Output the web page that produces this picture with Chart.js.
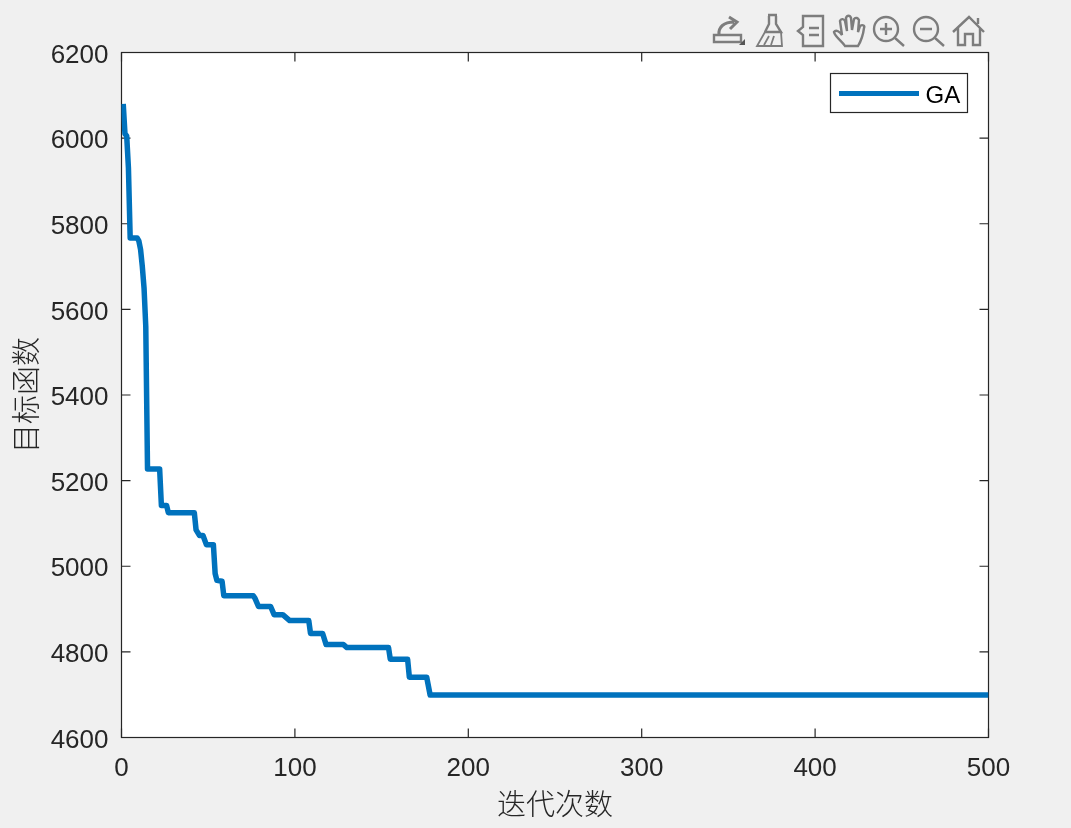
<!DOCTYPE html>
<html>
<head>
<meta charset="utf-8">
<script src="https://cdn.jsdelivr.net/npm/chart.js@4"></script>
<style>
  html, body { margin: 0; padding: 0; background: #f0f0f0; overflow: hidden; }
  #wrap { position: relative; width: 1071px; height: 828px; }
  #toolbar { position: absolute; left: 0; top: 0; }
</style>
</head>
<body>
<div id="wrap">
  <canvas id="myChart" width="1071" height="828"></canvas>
  <!-- figure toolbar icons -->
  <svg id="toolbar" width="1071" height="52" fill="none" stroke="#7d7d7d" stroke-width="2.4">
    <path d="M714 35h27v7h-27z"/>
    <path d="M719 35c-1-8 5-13 15-13M729 17l8 5-7 7" stroke-width="3"/>
    <path d="M739 45l6-6v6z" fill="#555" stroke="none"/>
    <path d="M768 15h9M769 16v8l-4 8M776 16v8l5 8h-16" />
    <path d="M765 32l-8 14h25l-1-14zM764 45l5-9M771 45l3-9" stroke-width="1.8"/>
    <path d="M803 16h20v30h-20v-11l-5-4 5-4zM809 28h10M809 35h10"/>
    <path d="M845 46c-3-5-10-9-11-14 2-3 6 0 8 3l-2-14c1-3 4-2 5 0l2 10-1-13c1-3 4-3 5 0l1 12 2-11c2-2 4-1 5 1l-1 12 2-6c3-2 5 0 4 2-1 8-3 13-6 18z"/>
    <circle cx="886" cy="29" r="12"/><path d="M880 29h12M886 23v12M895 38l9 8" />
    <circle cx="926" cy="29" r="12"/><path d="M920 29h12M935 38l9 8"/>
    <path d="M953 32l16-15 15 15M958 28v17h7v-11h8v11h7v-17M978 18v6"/>
  </svg>
</div>
<script>
// values, only the points where the curve changes
const iterations = [1, 2, 3, 4, 5, 9, 10, 11, 12, 13, 14, 15, 22, 23, 26, 27, 42, 43, 45, 47, 49, 53, 54, 55, 58, 59, 76, 77, 79, 86, 88, 93, 97, 108, 109, 116, 118, 128, 130, 154, 155, 165, 166, 176, 178, 500];
const objective = [6080, 6010, 6005, 5930, 5767, 5767, 5760, 5740, 5700, 5650, 5560, 5227, 5227, 5142, 5142, 5125, 5125, 5085, 5072, 5072, 5050, 5050, 4983, 4967, 4965, 4931, 4931, 4925, 4906, 4906, 4887, 4887, 4873, 4873, 4843, 4843, 4817, 4817, 4810, 4810, 4783, 4783, 4741, 4741, 4699, 4699];
const seriesName = 'GA';
const xLabel = '迭代次数';
const yLabel = '目标函数';

const darkGrey = '#262626';
const tickFont = { family: '"Liberation Sans"', size: 26 };
const titleFont = { family: '"Noto Sans CJK SC"', size: 29, weight: '300' };

// white plot background, box and inward ticks on all four sides
const axesBox = {
  id: 'axesBox',
  beforeDatasetsDraw(chart) {
    const { ctx, chartArea: a, scales } = chart;
    ctx.save();
    ctx.fillStyle = '#fff';
    ctx.fillRect(a.left, a.top, a.right - a.left, a.bottom - a.top);
    ctx.strokeStyle = darkGrey;
    ctx.lineWidth = 1.2;
    ctx.beginPath();
    scales.x.ticks.forEach((t, i) => {
      const x = scales.x.getPixelForTick(i);
      ctx.moveTo(x, a.bottom); ctx.lineTo(x, a.bottom - 9);
      ctx.moveTo(x, a.top); ctx.lineTo(x, a.top + 9);
    });
    scales.y.ticks.forEach((t, i) => {
      const y = scales.y.getPixelForTick(i);
      ctx.moveTo(a.left, y); ctx.lineTo(a.left + 9, y);
      ctx.moveTo(a.right, y); ctx.lineTo(a.right - 9, y);
    });
    ctx.stroke();
    ctx.strokeRect(a.left, a.top, a.right - a.left, a.bottom - a.top);
    ctx.restore();
  },
  afterDraw(chart) {
    // legend box, top right corner of the axes
    const { ctx } = chart;
    const ds = chart.data.datasets[0];
    ctx.save();
    ctx.fillStyle = '#fff';
    ctx.strokeStyle = darkGrey;
    ctx.lineWidth = 1.2;
    ctx.fillRect(830.5, 73.5, 137, 39);
    ctx.strokeRect(830.5, 73.5, 137, 39);
    ctx.strokeStyle = ds.borderColor;
    ctx.lineWidth = 5;
    ctx.beginPath();
    ctx.moveTo(839, 93.5);
    ctx.lineTo(919, 93.5);
    ctx.stroke();
    ctx.fillStyle = '#000';
    ctx.font = '24px "Liberation Sans"';
    ctx.textBaseline = 'middle';
    ctx.fillText(ds.label, 925.5, 96);
    ctx.restore();
  }
};

let ctx = document.getElementById('myChart').getContext('2d');
let myChart = new Chart(ctx, {
  type: 'line',
  data: {
    datasets: [{
      label: seriesName,
      data: iterations.map((it, i) => ({ x: it, y: objective[i] })),
      borderColor: '#0072BD',
      borderWidth: 5.5,
      borderJoinStyle: 'round',
      pointRadius: 0,
      fill: false,
      tension: 0
    }]
  },
  options: {
    responsive: false,
    animation: false,
    layout: { padding: { left: 0, top: 52.5, right: 82.5, bottom: 0 } },
    plugins: { legend: { display: false }, tooltip: { enabled: false } },
    scales: {
      x: {
        type: 'linear',
        min: 0,
        max: 500,
        afterFit(scale) { scale.height = 90.5; },
        grid: { display: false },
        border: { display: false },
        ticks: { stepSize: 100, color: darkGrey, font: tickFont, padding: 8, maxRotation: 0 },
        title: { display: true, text: xLabel, color: darkGrey, font: titleFont, padding: { top: 0, bottom: 7 } }
      },
      y: {
        min: 4600,
        max: 6200,
        afterFit(scale) { scale.width = 121.5; },
        grid: { display: false },
        border: { display: false },
        ticks: { stepSize: 200, color: darkGrey, font: tickFont, padding: 5, labelOffset: 3, callback: v => String(v) },
        title: { display: true, text: yLabel, color: darkGrey, font: titleFont, padding: { top: 9, bottom: 0 } }
      }
    }
  },
  plugins: [axesBox]
});
</script>
</body>
</html>
